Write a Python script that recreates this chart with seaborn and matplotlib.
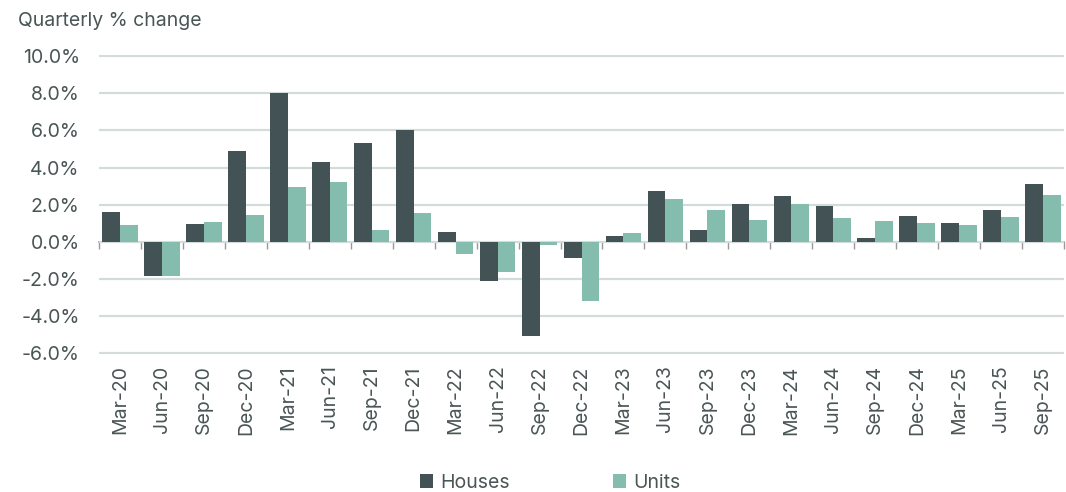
import pandas as pd
import numpy as np
import seaborn as sns
import matplotlib.pyplot as plt
from matplotlib.ticker import FuncFormatter

# Quarter labels and quarterly % change values
quarters = ["Mar-20", "Jun-20", "Sep-20", "Dec-20", "Mar-21", "Jun-21", "Sep-21", "Dec-21",
            "Mar-22", "Jun-22", "Sep-22", "Dec-22", "Mar-23", "Jun-23", "Sep-23", "Dec-23",
            "Mar-24", "Jun-24", "Sep-24", "Dec-24", "Mar-25", "Jun-25", "Sep-25"]
houses = [1.62, -1.86, 0.95, 4.89, 8.0, 4.27, 5.34, 6.02,
          0.54, -2.13, -5.07, -0.88, 0.30, 2.73, 0.61, 2.04,
          2.45, 1.93, 0.21, 1.39, 1.02, 1.71, 3.13]
units = [0.91, -1.86, 1.09, 1.45, 2.95, 3.20, 0.66, 1.55,
         -0.64, -1.63, -0.16, -3.16, 0.46, 2.29, 1.70, 1.18,
         2.04, 1.30, 1.12, 1.02, 0.91, 1.34, 2.52]
series = ["Houses", "Units"]
colors = ["#435254", "#84bcad"]

df = pd.DataFrame({
    "Quarter": quarters * 2,
    "Change": houses + units,
    "Type": ["Houses"] * len(quarters) + ["Units"] * len(quarters),
})

sns.set_style("white")
plt.rcParams['font.family'] = ['Inter', 'DejaVu Sans']
text_col = "#4a5555"

fig = plt.figure(figsize=(10.66, 4.92), dpi=100)
ax = fig.add_axes([0.093, 0.28, 0.905, 0.608])

sns.barplot(data=df, x="Quarter", y="Change", hue="Type", hue_order=series,
            palette=colors, width=0.84, linewidth=0, saturation=1, ax=ax)

ax.set_ylim(-6.05, 10.05)
ax.set_yticks(np.arange(-6, 10.1, 2))
ax.yaxis.set_major_formatter(FuncFormatter(lambda v, p: f"{v:.1f}%"))
ax.grid(axis="y", color="#d3dbdb", linewidth=1.6)
ax.set_axisbelow(True)
for s in ax.spines.values():
    s.set_visible(False)
ax.set_xlim(-0.5, len(quarters) - 0.5)
ax.tick_params(axis="y", length=0, labelsize=14, labelcolor=text_col, pad=14)
ax.tick_params(axis="x", length=0, labelsize=14, labelcolor=text_col, rotation=90, pad=8)
ax.set_xlabel("")
ax.set_ylabel("")

# zero line with category boundary ticks
zero_frac = (0 - (-6.05)) / (10.05 - (-6.05))
sec = ax.secondary_xaxis(zero_frac)
sec.set_xticks(np.arange(len(quarters) + 1) - 0.5, labels=[])
sec.tick_params(axis="x", direction="out", length=5, color="#999999", width=1)
sec.spines["bottom"].set_color("#999999")
sec.spines["bottom"].set_linewidth(1.2)
for k in ["top", "left", "right"]:
    sec.spines[k].set_visible(False)

fig.text(0.017, 0.958, "Quarterly % change", fontsize=14, color=text_col, va="center")

handles, labels = ax.get_legend_handles_labels()
ax.legend(handles, labels, loc="lower center", bbox_to_anchor=(0.516, -0.035),
          bbox_transform=fig.transFigure, ncol=2, frameon=False, fontsize=14,
          handlelength=0.7, handleheight=0.7, handletextpad=0.35, columnspacing=5.3,
          labelcolor=text_col)

plt.savefig("out.png", dpi=100)
